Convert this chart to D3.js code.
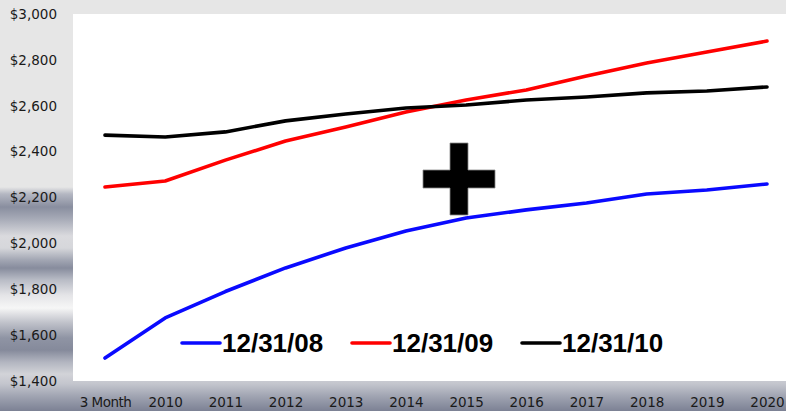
<!DOCTYPE html>
<html>
<head>
<meta charset="utf-8">
<script src="https://cdn.jsdelivr.net/npm/d3@7"></script>
<style>
  html, body { margin: 0; padding: 0; background: #e6e6e6; }
  svg { display: block; }
</style>
</head>
<body>
<div id="chart"></div>
<script>
// categories and series
var categories = ["3 Month", "2010", "2011", "2012", "2013", "2014", "2015", "2016", "2017", "2018", "2019", "2020"];
var s08 = [1500, 1675, 1790, 1893, 1980, 2054, 2111, 2146, 2176, 2215, 2233, 2259];
var s09 = [2246, 2272, 2363, 2446, 2507, 2573, 2625, 2669, 2730, 2786, 2834, 2882];
var s10 = [2472, 2464, 2486, 2534, 2564, 2590, 2603, 2625, 2638, 2656, 2664, 2682];
var seriesNames = ["12/31/08", "12/31/09", "12/31/10"];
var seriesColors = ["#0a0aff", "#ff0000", "#000000"];
var yTicks = [1400, 1600, 1800, 2000, 2200, 2400, 2600, 2800, 3000];

var W = 786, H = 411;
var plot = {x0: 73, x1: 786, y0: 14, y1: 381};

var svg = d3.select("#chart").append("svg")
    .attr("width", W).attr("height", H);

// background : flat gray on top, metallic bands lower down
var defs = svg.append("defs");
var grad = defs.append("linearGradient")
    .attr("id", "metal")
    .attr("gradientUnits", "userSpaceOnUse")
    .attr("x1", 0).attr("y1", 0).attr("x2", 0).attr("y2", H);
var stops = [
    [0, "#e6e6e6"], [187, "#e6e6e6"], [194, "#b4b7c2"], [207, "#898e9f"],
    [218, "#a4a8b5"], [236, "#dadade"], [248, "#d6d7db"], [260, "#a2a6b3"],
    [268, "#878c9d"], [280, "#b9bcc6"], [295, "#e4e4e7"], [308, "#f6f6f6"],
    [322, "#c2c4cc"], [338, "#8f94a4"], [350, "#858a9b"], [362, "#b2b5c0"],
    [374, "#d2d3d8"], [384, "#c3c5cd"], [397, "#9ea2b0"], [411, "#7c8194"]
];
stops.forEach(function(s){
    grad.append("stop").attr("offset", s[0] / H).attr("stop-color", s[1]);
});
svg.append("rect").attr("width", W).attr("height", H).attr("fill", "url(#metal)");

// title, cut off at the top like in the original
svg.append("text")
    .attr("x", 465).attr("y", -1)
    .attr("text-anchor", "middle")
    .style("font-family", "Liberation Sans, Arial, sans-serif")
    .style("font-weight", "bold")
    .style("font-size", "22px")
    .attr("fill", "#333")
    .text("Annual Car Cost Trend");

// plot area
svg.append("rect")
    .attr("x", plot.x0).attr("y", plot.y0)
    .attr("width", plot.x1 - plot.x0).attr("height", plot.y1 - plot.y0)
    .attr("fill", "#ffffff");

var x = d3.scalePoint().domain(categories).range([105, 767]);
var y = d3.scaleLinear().domain([1400, 3000]).range([plot.y1, plot.y0]);

// y axis
var yAxis = svg.append("g")
    .attr("transform", "translate(57,0)")
    .call(d3.axisLeft(y).tickValues(yTicks).tickSize(0).tickPadding(0)
        .tickFormat(function(d){ return "$" + d3.format(",")(d); }));
yAxis.select(".domain").remove();
yAxis.selectAll("text")
    .style("font-family", "DejaVu Sans, sans-serif")
    .style("font-size", "13.5px")
    .attr("fill", "#1a1a1a");

// x axis
var xAxis = svg.append("g")
    .attr("transform", "translate(0,397)")
    .call(d3.axisBottom(x).tickSize(0).tickPadding(0));
xAxis.select(".domain").remove();
xAxis.selectAll("text")
    .style("font-family", "DejaVu Sans, sans-serif")
    .style("font-size", "13.5px")
    .attr("fill", "#1a1a1a")
    .attr("dy", "0.71em");
xAxis.selectAll("text").filter(function(d){ return d === "3 Month"; })
    .attr("letter-spacing", "-0.5px");

// lines
var line = d3.line()
    .x(function(d, i){ return x(categories[i]); })
    .y(function(d){ return y(d); });

[s08, s09, s10].forEach(function(s, i){
    svg.append("path")
        .datum(s)
        .attr("d", line)
        .attr("fill", "none")
        .attr("stroke", seriesColors[i])
        .attr("stroke-width", 3.6)
        .attr("stroke-linejoin", "round")
        .attr("stroke-linecap", "round");
});

// plus sign
var plus = svg.append("g").attr("transform", "translate(459,179)");
plus.append("path")
    .attr("d", "M-9,-36H9V-9H36V9H9V36H-9V9H-36V-9H-9Z")
    .attr("fill", "#000")
    .attr("stroke", "#888")
    .attr("stroke-width", 0.8);

// legend
var legX = [182, 352, 522];
seriesNames.forEach(function(name, i){
    var g = svg.append("g").attr("transform", "translate(" + legX[i] + ",343)");
    g.append("line")
        .attr("x1", 0).attr("x2", 38).attr("y1", 0).attr("y2", 0)
        .attr("stroke", seriesColors[i])
        .attr("stroke-width", 3.6)
        .attr("stroke-linecap", "round");
    g.append("text")
        .attr("x", 40).attr("y", 9)
        .style("font-family", "Liberation Sans, Arial, sans-serif")
        .style("font-weight", "bold")
        .style("font-size", "26px")
        .attr("fill", "#000")
        .text(name);
});
</script>
</body>
</html>
